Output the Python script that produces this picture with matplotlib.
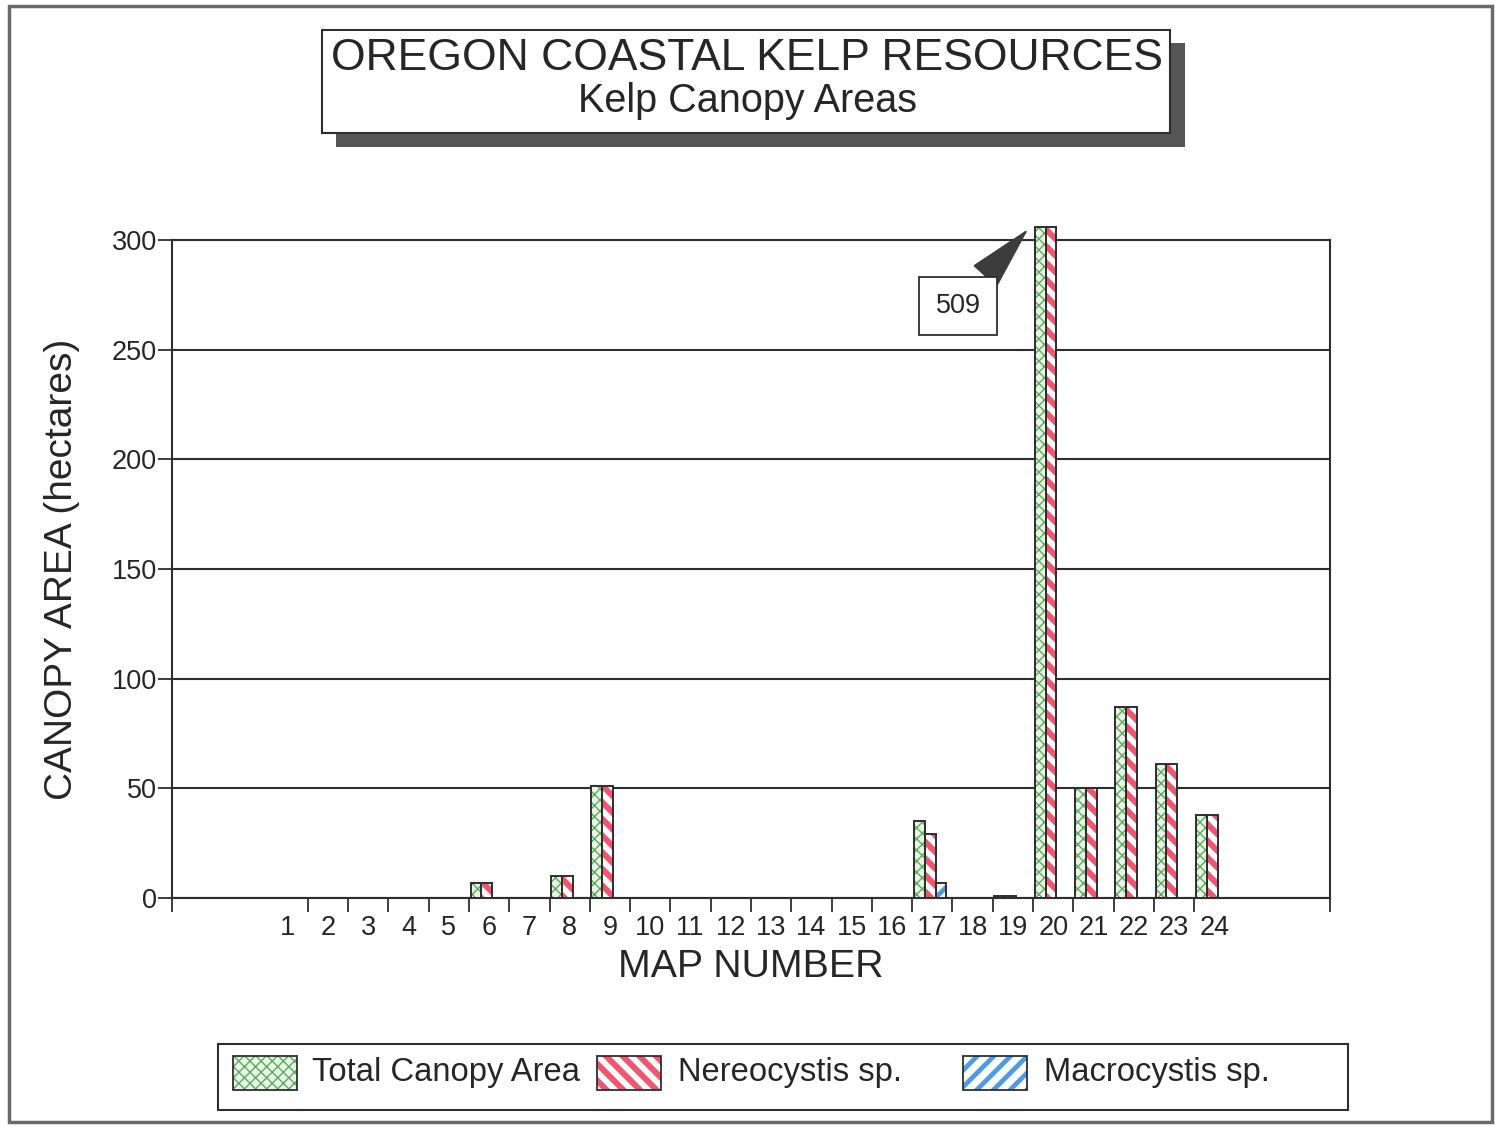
import matplotlib
matplotlib.use("Agg")
import matplotlib.pyplot as plt
from matplotlib.patches import Rectangle
import numpy as np

plt.rcParams["font.family"] = ["Liberation Sans", "DejaVu Sans"]

# Canopy area (hectares) per map sheet
maps = list(range(1, 25))
total_canopy = [0, 0, 0, 0, 0, 7, 0, 10, 51, 0, 0, 0,
                0, 0, 0, 0, 35, 0, 1, 509, 50, 87, 61, 38]
nereocystis = [0, 0, 0, 0, 0, 7, 0, 10, 51, 0, 0, 0,
               0, 0, 0, 0, 29, 0, 1, 509, 50, 87, 61, 38]
macrocystis = [0, 0, 0, 0, 0, 0, 0, 0, 0, 0, 0, 0,
               0, 0, 0, 0, 7, 0, 0, 0, 0, 0, 0, 0]
y_ticks = [0, 50, 100, 150, 200, 250, 300]

TEXT = "#262626"
LINE = "#2e2e2e"
GREEN = "#5aab5a"
GREEN_BG = "#e9f5e7"
RED = "#f2566f"
BLUE = "#4d9be6"

W, H = 1495, 1127
fig = plt.figure(figsize=(W / 100, H / 100), dpi=100, facecolor="white")

# page decorations drawn in pixel coordinates
deco = fig.add_axes([0, 0, 1, 1])
deco.set_xlim(0, W)
deco.set_ylim(H, 0)
deco.axis("off")

deco.add_patch(Rectangle((9, 6), 1483, 1116, fill=False, ec="#6a6a6a", lw=2.5))

# title box with drop shadow
deco.add_patch(Rectangle((336, 43), 849, 104, fc="#555555", ec="none", zorder=1))
deco.add_patch(Rectangle((322, 30), 848, 103, fc="white", ec=LINE, lw=1.5, zorder=2))
deco.text(747, 58, "OREGON COASTAL KELP RESOURCES", fontsize=32, color=TEXT,
          ha="center", va="center", zorder=3)
deco.text(747, 101, "Kelp Canopy Areas", fontsize=28.5, color=TEXT,
          ha="center", va="center", zorder=3)

deco.text(62, 569, "CANOPY AREA (hectares)", fontsize=28, color=TEXT,
          rotation=90, ha="center", va="center")
deco.text(751, 967, "MAP NUMBER", fontsize=28.3, color=TEXT,
          ha="center", va="center")

# legend
SERIES = [
    ("Total Canopy Area", GREEN_BG, "xxx", GREEN, 1.0),
    ("Nereocystis sp.", "white", "\\\\", RED, 4.3),
    ("Macrocystis sp.", "white", "//", BLUE, 3.4),
]
deco.add_patch(Rectangle((218, 1044), 1130, 66, fc="white", ec=LINE, lw=1.5))
for (label, face, hatch, hcol, hlw), sx, tx in zip(SERIES, [233, 597, 963],
                                                   [312, 678, 1044]):
    with plt.rc_context({"hatch.linewidth": hlw}):
        p = Rectangle((sx, 1056), 64, 34, fc=face, ec=hcol, lw=0, hatch=hatch)
    if hasattr(p, "set_hatch_linewidth"):
        p.set_hatch_linewidth(hlw)
    deco.add_patch(p)
    deco.add_patch(Rectangle((sx, 1056), 64, 34, fill=False, ec=LINE, lw=1.3))
    deco.text(tx, 1072, label, fontsize=23.6, color=TEXT, ha="left", va="center")

# main plot
ax = fig.add_axes([172 / W, 1 - 898 / H, 1158 / W, 658 / H])
x0, x1 = -1.87, 26.87
ax.set_xlim(x0, x1)
ax.set_ylim(0, 300)

Y_CAP = 306  # bars taller than this are cut just above the frame
BAR_W = 0.27
offsets = [-0.46, -0.19, 0.08]
x = np.array(maps, dtype=float)

for (label, face, hatch, hcol, hlw), vals, off in zip(
        SERIES, [total_canopy, nereocystis, macrocystis], offsets):
    h = np.minimum(np.array(vals, dtype=float), Y_CAP)
    keep = h > 0
    with plt.rc_context({"hatch.linewidth": hlw}):
        bars = ax.bar(x[keep] + off, h[keep], width=BAR_W, align="edge",
                      color=face, edgecolor=hcol, linewidth=0, hatch=hatch,
                      zorder=3, clip_on=False)
    for b in bars:
        if hasattr(b, "set_hatch_linewidth"):
            b.set_hatch_linewidth(hlw)
    ax.bar(x[keep] + off, h[keep], width=BAR_W, align="edge", fill=False,
           edgecolor=LINE, linewidth=1.4, zorder=4, clip_on=False)

ax.annotate("509", xy=(19.38, 305), xytext=(17.64, 270), fontsize=19.5,
            color=TEXT, ha="center", va="center", annotation_clip=False,
            bbox=dict(boxstyle="square,pad=0.6", fc="white", ec=LINE, lw=1.3),
            arrowprops=dict(arrowstyle="-|>,head_length=2.2,head_width=0.55",
                            color="#3c3c3c", lw=1.3, shrinkA=0, shrinkB=0),
            zorder=5)

# horizontal rules
ax.set_yticks(y_ticks)
ax.yaxis.grid(True, color=LINE, linewidth=1.5)
ax.set_axisbelow(True)
ax.tick_params(axis="y", direction="out", length=10, width=1.3, color=LINE,
               labelsize=19.5, labelcolor=TEXT, pad=1)

# ticks between map slots, labels centred on each slot
boundaries = [x0] + [m + 0.5 for m in maps[:-1]] + [x1]
ax.set_xticks(boundaries)
ax.set_xticklabels([])
ax.set_xticks(maps, minor=True)
ax.set_xticklabels([str(m) for m in maps], minor=True)
ax.tick_params(axis="x", which="major", direction="out", length=10, width=1.3,
               color=LINE)
ax.tick_params(axis="x", which="minor", length=0, labelsize=19.5,
               labelcolor=TEXT, pad=12)

for s in ax.spines.values():
    s.set_color(LINE)
    s.set_linewidth(1.5)

fig.savefig("out.png", dpi=100, facecolor="white")
